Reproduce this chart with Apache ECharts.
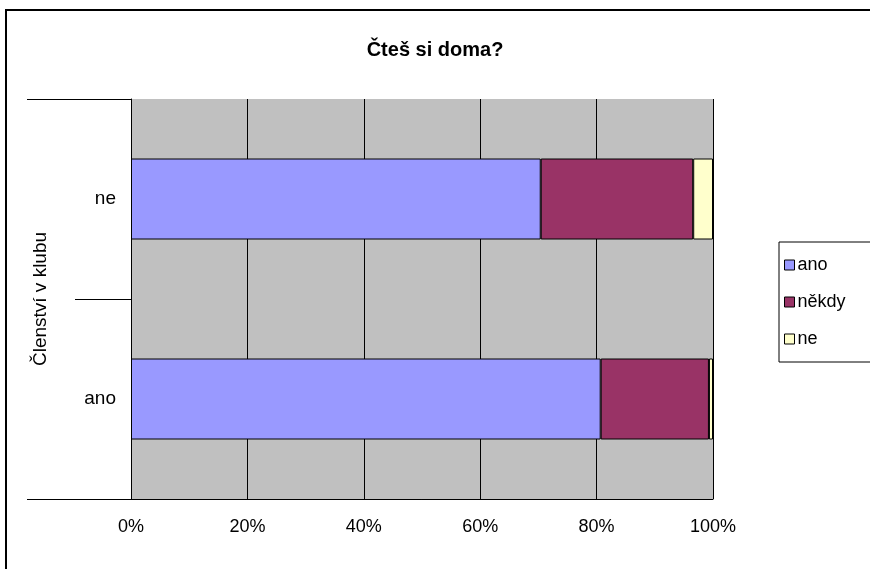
<!DOCTYPE html>
<html>
<head>
<meta charset="utf-8">
<script src="https://cdn.jsdelivr.net/npm/echarts@6/dist/echarts.min.js"></script>
<style>
  html, body { margin: 0; padding: 0; background: #fff; }
  #wrap { position: relative; width: 870px; height: 569px; overflow: hidden; }
  #chart { width: 870px; height: 569px; }
  #frame { position: absolute; left: 5px; top: 9px; width: 900px; height: 600px; border: 2px solid #000; pointer-events: none; box-sizing: border-box; }
</style>
</head>
<body>
<div id="wrap">
  <div id="chart"></div>
  <div id="frame"></div>
</div>
<script>
const titleText = 'Čteš si doma?';
const yAxisName = 'Členství v klubu';
const categories = ['ano', 'ne'];
const seriesNames = ['ano', 'někdy', 'ne'];
const anoValues = [80.7, 70.4];
const nekdyValues = [18.6, 26.2];
const neValues = [0.7, 3.4];
const xTicks = [0, 20, 40, 60, 80, 100];

const colors = ['#9999FF', '#993366', '#FFFFCC'];
const font = 'Liberation Sans, Arial, sans-serif';

const chart = echarts.init(document.getElementById('chart'), null, { renderer: 'canvas' });
const mk = (name, data, color) => ({
  name, type: 'bar', stack: 'total', data,
  barWidth: 81,
  itemStyle: { color, borderColor: '#000', borderWidth: 1 },
  emphasis: { disabled: true }
});
chart.setOption({
  animation: false,
  title: {
    text: titleText, left: 'center', top: 35,
    textStyle: { fontFamily: font, fontSize: 20, fontWeight: 'bold', color: '#000' }
  },
  legend: {
    orient: 'vertical', left: 779, top: 242,
    padding: [14, 40, 14, 5],
    itemWidth: 10, itemHeight: 10, itemGap: 19,
    icon: 'rect',
    borderColor: '#000', borderWidth: 1,
    textStyle: { fontFamily: font, fontSize: 18, color: '#000', padding: [0, 0, 0, -2] },
    data: seriesNames.map((n, i) => ({ name: n, itemStyle: { color: colors[i], borderColor: '#000', borderWidth: 1 } }))
  },
  grid: { left: 131, right: 157, top: 99, bottom: 70, show: true, backgroundColor: '#C0C0C0', borderWidth: 0 },
  xAxis: {
    type: 'value', min: 0, max: 100, interval: 20,
    axisLine: { show: true, lineStyle: { color: '#000', width: 1 } },
    axisTick: { show: false },
    axisLabel: { formatter: '{value}%', fontFamily: font, fontSize: 18, color: '#000', margin: 19, customValues: xTicks },
    splitLine: { show: true, lineStyle: { color: '#000', width: 1 } }
  },
  yAxis: [{
    type: 'category', data: categories,
    name: yAxisName, nameLocation: 'middle', nameGap: 81,
    nameTextStyle: { fontFamily: font, fontSize: 19, color: '#000' },
    axisLine: { show: true, lineStyle: { color: '#000', width: 1 } },
    axisTick: { show: true, length: 56, lineStyle: { color: '#000' } },
    axisLabel: { fontFamily: font, fontSize: 19, color: '#000', margin: 15 },
    splitLine: { show: false }
  }, {
    type: 'value', min: 0, max: 2, interval: 2, position: 'left',
    axisLine: { show: false },
    axisTick: { show: true, length: 104, lineStyle: { color: '#000' } },
    axisLabel: { show: false },
    splitLine: { show: false }
  }],
  series: [
    mk(seriesNames[0], anoValues, colors[0]),
    mk(seriesNames[1], nekdyValues, colors[1]),
    mk(seriesNames[2], neValues, colors[2])
  ]
});
</script>
</body>
</html>
